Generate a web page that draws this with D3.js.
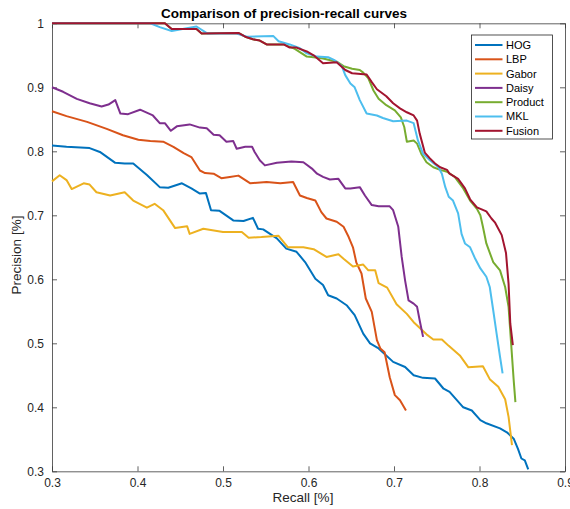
<!DOCTYPE html>
<html>
<head>
<meta charset="utf-8">
<script src="https://cdn.jsdelivr.net/npm/d3@7"></script>
<style>
  html, body { margin: 0; padding: 0; background: #fff; }
  svg { display: block; font-family: "Liberation Sans", Arial, Helvetica, sans-serif; }
</style>
</head>
<body>
<svg id="chart" width="570" height="509"></svg>
<script>
// ---- data (recall, precision) ----
const seriesNames = ["HOG", "LBP", "Gabor", "Daisy", "Product", "MKL", "Fusion"];
const xTicks = [0.3, 0.4, 0.5, 0.6, 0.7, 0.8, 0.9];
const yTicks = [0.3, 0.4, 0.5, 0.6, 0.7, 0.8, 0.9, 1.0];
const xTickLabels = ["0.3", "0.4", "0.5", "0.6", "0.7", "0.8", "0.9"];
const yTickLabels = ["0.3", "0.4", "0.5", "0.6", "0.7", "0.8", "0.9", "1"];

const hog = [[0.300,0.809],[0.317,0.807],[0.344,0.805],[0.356,0.799],[0.374,0.782],[0.385,0.781],[0.395,0.781],[0.411,0.763],[0.426,0.744],[0.436,0.743],[0.452,0.750],[0.463,0.742],[0.473,0.734],[0.480,0.735],[0.486,0.708],[0.496,0.707],[0.512,0.692],[0.524,0.691],[0.535,0.696],[0.541,0.679],[0.547,0.678],[0.563,0.664],[0.574,0.648],[0.586,0.643],[0.596,0.627],[0.608,0.601],[0.617,0.591],[0.623,0.575],[0.633,0.570],[0.645,0.559],[0.654,0.544],[0.664,0.515],[0.672,0.500],[0.682,0.492],[0.699,0.471],[0.713,0.463],[0.723,0.450],[0.734,0.446],[0.748,0.445],[0.758,0.429],[0.765,0.424],[0.781,0.400],[0.791,0.395],[0.801,0.380],[0.808,0.375],[0.824,0.367],[0.832,0.361],[0.840,0.351],[0.845,0.335],[0.849,0.320],[0.853,0.317],[0.857,0.303]];

const lbp = [[0.300,0.8625],[0.317,0.855],[0.341,0.846],[0.364,0.835],[0.383,0.825],[0.401,0.818],[0.415,0.816],[0.430,0.815],[0.442,0.807],[0.454,0.797],[0.463,0.791],[0.473,0.770],[0.479,0.766],[0.489,0.765],[0.498,0.758],[0.508,0.760],[0.518,0.762],[0.532,0.750],[0.551,0.752],[0.567,0.750],[0.582,0.752],[0.590,0.731],[0.598,0.727],[0.608,0.723],[0.615,0.705],[0.621,0.695],[0.633,0.690],[0.641,0.682],[0.647,0.666],[0.652,0.650],[0.656,0.626],[0.662,0.609],[0.667,0.570],[0.674,0.549],[0.680,0.505],[0.684,0.492],[0.689,0.486],[0.695,0.447],[0.701,0.419],[0.707,0.411],[0.714,0.395]];

const gabor = [[0.300,0.753],[0.309,0.7625],[0.317,0.755],[0.323,0.741],[0.337,0.750],[0.344,0.748],[0.352,0.736],[0.368,0.731],[0.385,0.736],[0.395,0.723],[0.411,0.712],[0.420,0.718],[0.430,0.708],[0.444,0.680],[0.458,0.683],[0.461,0.671],[0.477,0.679],[0.500,0.674],[0.522,0.674],[0.530,0.665],[0.545,0.666],[0.565,0.668],[0.576,0.650],[0.594,0.650],[0.606,0.647],[0.621,0.635],[0.635,0.639],[0.641,0.632],[0.652,0.620],[0.664,0.623],[0.670,0.614],[0.678,0.614],[0.682,0.594],[0.692,0.587],[0.703,0.561],[0.715,0.546],[0.723,0.533],[0.738,0.514],[0.746,0.506],[0.756,0.506],[0.764,0.496],[0.777,0.481],[0.787,0.4625],[0.804,0.464],[0.812,0.444],[0.822,0.432],[0.830,0.4125],[0.834,0.385],[0.838,0.341]];

const daisy = [[0.300,0.900],[0.313,0.893],[0.329,0.882],[0.344,0.875],[0.358,0.870],[0.366,0.873],[0.374,0.880],[0.380,0.859],[0.389,0.858],[0.403,0.865],[0.418,0.856],[0.426,0.844],[0.432,0.844],[0.439,0.832],[0.446,0.839],[0.461,0.842],[0.473,0.837],[0.481,0.836],[0.489,0.826],[0.496,0.825],[0.504,0.815],[0.512,0.816],[0.516,0.804],[0.526,0.807],[0.534,0.807],[0.537,0.799],[0.543,0.786],[0.549,0.778],[0.563,0.782],[0.580,0.784],[0.594,0.783],[0.604,0.773],[0.610,0.765],[0.617,0.760],[0.625,0.756],[0.635,0.757],[0.643,0.742],[0.649,0.742],[0.660,0.744],[0.666,0.731],[0.674,0.716],[0.682,0.714],[0.695,0.714],[0.699,0.708],[0.705,0.682],[0.709,0.635],[0.713,0.598],[0.717,0.567],[0.723,0.562],[0.727,0.557],[0.730,0.536],[0.734,0.510]];

const product = [[0.300,1.000],[0.432,1.000],[0.440,0.991],[0.469,0.991],[0.475,0.984],[0.518,0.985],[0.526,0.979],[0.535,0.975],[0.543,0.973],[0.551,0.967],[0.571,0.967],[0.584,0.960],[0.598,0.948],[0.606,0.947],[0.617,0.945],[0.633,0.940],[0.641,0.933],[0.651,0.929],[0.660,0.927],[0.664,0.923],[0.670,0.914],[0.676,0.895],[0.682,0.882],[0.691,0.872],[0.701,0.864],[0.708,0.853],[0.712,0.838],[0.715,0.815],[0.723,0.817],[0.727,0.812],[0.732,0.796],[0.738,0.783],[0.746,0.775],[0.754,0.771],[0.762,0.768],[0.771,0.760],[0.781,0.742],[0.789,0.723],[0.797,0.710],[0.801,0.700],[0.804,0.682],[0.808,0.656],[0.816,0.627],[0.824,0.614],[0.830,0.588],[0.834,0.557],[0.837,0.4995],[0.840,0.442],[0.842,0.408]];

const mkl = [[0.300,1.000],[0.415,1.000],[0.426,0.994],[0.440,0.988],[0.456,0.992],[0.469,0.995],[0.482,0.984],[0.516,0.984],[0.528,0.979],[0.559,0.980],[0.565,0.972],[0.578,0.967],[0.590,0.961],[0.598,0.953],[0.610,0.948],[0.623,0.947],[0.631,0.942],[0.639,0.933],[0.643,0.919],[0.649,0.906],[0.654,0.900],[0.660,0.880],[0.668,0.859],[0.680,0.856],[0.687,0.852],[0.699,0.847],[0.715,0.848],[0.723,0.844],[0.728,0.817],[0.734,0.796],[0.742,0.786],[0.752,0.775],[0.756,0.765],[0.760,0.744],[0.764,0.729],[0.769,0.723],[0.775,0.703],[0.779,0.671],[0.783,0.656],[0.789,0.650],[0.795,0.632],[0.801,0.617],[0.808,0.604],[0.812,0.588],[0.816,0.552],[0.820,0.515],[0.824,0.479],[0.827,0.453]];

const fusion = [[0.300,1.000],[0.432,1.000],[0.440,0.991],[0.469,0.991],[0.475,0.984],[0.518,0.985],[0.526,0.979],[0.535,0.975],[0.543,0.973],[0.551,0.967],[0.571,0.967],[0.578,0.962],[0.586,0.962],[0.598,0.956],[0.606,0.950],[0.617,0.9375],[0.633,0.939],[0.643,0.927],[0.651,0.922],[0.668,0.920],[0.674,0.908],[0.680,0.897],[0.691,0.886],[0.699,0.875],[0.707,0.867],[0.715,0.861],[0.723,0.856],[0.727,0.848],[0.730,0.828],[0.736,0.798],[0.742,0.789],[0.748,0.781],[0.754,0.775],[0.762,0.771],[0.765,0.765],[0.775,0.757],[0.783,0.742],[0.789,0.725],[0.797,0.7125],[0.808,0.706],[0.814,0.695],[0.818,0.689],[0.826,0.669],[0.831,0.641],[0.834,0.593],[0.836,0.531],[0.839,0.497]];

// ---- styles ----
const seriesColors = ["#0072BD", "#D95319", "#EDB120", "#7E2F8E", "#77AC30", "#4DBEEE", "#A2142F"];
const seriesData = [hog, lbp, gabor, daisy, product, mkl, fusion];

(function draw() {
  const svg = d3.select("#chart");
  const W = 570, H = 509;
  const pLeft = 52, pRight = 565, pTop = 23.3, pBottom = 471.3;
  const axisColor = "#262626";
  const fontFam = "'Liberation Sans', Arial, Helvetica, sans-serif";

  svg.append("rect").attr("width", W).attr("height", H).attr("fill", "#fff");

  const x = d3.scaleLinear().domain([0.3, 0.9]).range([pLeft, pRight]);
  const y = d3.scaleLinear().domain([0.3, 1.0]).range([pBottom, pTop]);

  function styleAxis(g) {
    g.select(".domain").attr("stroke", "#3a3a3a").attr("stroke-width", 0.8);
    g.selectAll(".tick line").attr("stroke", "#3a3a3a").attr("stroke-width", 0.8);
    g.selectAll(".tick text").attr("fill", axisColor).attr("font-size", 12)
      .attr("font-family", fontFam);
  }
  const xAxis = d3.axisBottom(x).tickValues(xTicks)
    .tickFormat((d, i) => xTickLabels[i]).tickSizeInner(-5).tickSizeOuter(0).tickPadding(7.5);
  const xAxisTop = d3.axisTop(x).tickValues(xTicks).tickFormat("").tickSizeInner(-5).tickSizeOuter(0);
  const yAxis = d3.axisLeft(y).tickValues(yTicks)
    .tickFormat((d, i) => yTickLabels[i]).tickSizeInner(-5).tickSizeOuter(0).tickPadding(8);
  const yAxisRight = d3.axisRight(y).tickValues(yTicks).tickFormat("").tickSizeInner(-5).tickSizeOuter(0);

  svg.append("g").attr("transform", `translate(0,${pBottom})`).call(xAxis).call(styleAxis);
  svg.append("g").attr("transform", `translate(0,${pTop})`).call(xAxisTop).call(styleAxis);
  svg.append("g").attr("transform", `translate(${pLeft},0)`).call(yAxis).call(styleAxis);
  svg.append("g").attr("transform", `translate(${pRight},0)`).call(yAxisRight).call(styleAxis);

  // curves
  const line = d3.line().x(d => x(d[0])).y(d => y(d[1]));
  const gLines = svg.append("g");
  seriesData.forEach((data, i) => {
    gLines.append("path")
      .datum(data)
      .attr("d", line)
      .attr("fill", "none")
      .attr("stroke", seriesColors[i])
      .attr("stroke-width", 2)
      .attr("stroke-linejoin", "round")
      .attr("stroke-linecap", "butt");
  });

  // title & labels
  svg.append("text")
    .attr("x", 284).attr("y", 18.3)
    .attr("text-anchor", "middle").attr("font-size", 13.5).attr("font-weight", "bold")
    .attr("fill", "#000").text("Comparison of precision-recall curves");
  svg.append("text")
    .attr("x", 303).attr("y", 501.5)
    .attr("text-anchor", "middle").attr("font-size", 13.5)
    .attr("fill", axisColor).text("Recall [%]");
  svg.append("text")
    .attr("transform", `translate(20.5,255) rotate(-90)`)
    .attr("text-anchor", "middle").attr("font-size", 13.5)
    .attr("fill", axisColor).text("Precision [%]");

  // legend
  const lg = svg.append("g");
  const lgX = 471.5, lgY = 35, lgW = 81, lgH = 104, rowH = 14.3, row0 = 45;
  lg.append("rect").attr("x", lgX).attr("y", lgY).attr("width", lgW).attr("height", lgH)
    .attr("fill", "#fff").attr("stroke", axisColor).attr("stroke-width", 0.8);
  seriesNames.forEach((name, i) => {
    const cy = row0 + i * rowH;
    lg.append("line").attr("x1", lgX + 3.5).attr("x2", lgX + 31).attr("y1", cy).attr("y2", cy)
      .attr("stroke", seriesColors[i]).attr("stroke-width", 2);
    lg.append("text").attr("x", lgX + 34.5).attr("y", cy).attr("dy", "0.36em")
      .attr("font-size", 11).attr("fill", "#000").text(name);
  });
})();
</script>
</body>
</html>
